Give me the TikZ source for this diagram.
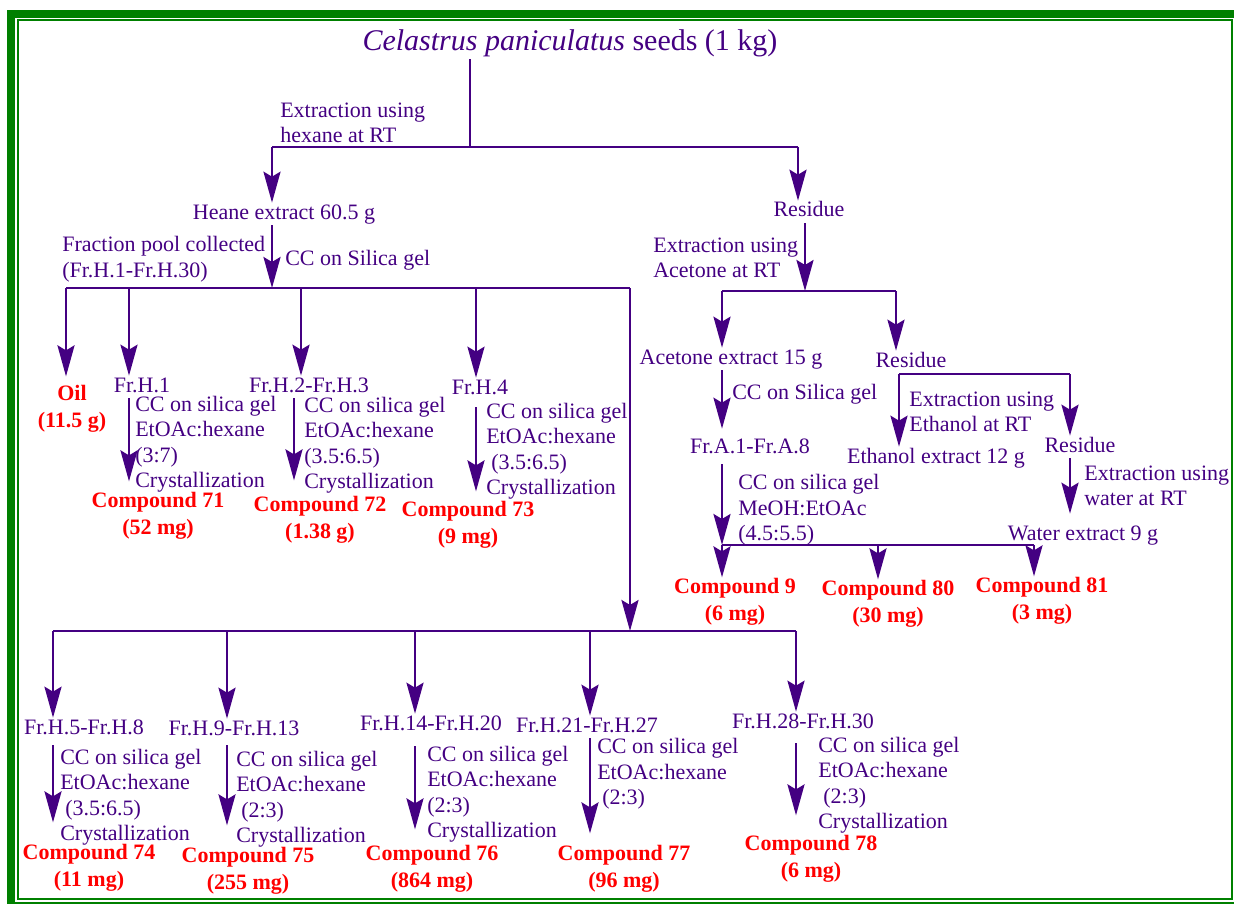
\documentclass[tikz,border=0pt]{standalone}
\usepackage{fontspec}
\setmainfont{Liberation Serif}
\usetikzlibrary{arrows.meta,positioning}
\definecolor{ink}{RGB}{68,0,130}
\definecolor{cpd}{RGB}{255,0,0}
\definecolor{frame}{RGB}{0,128,0}

\begin{document}
\begin{tikzpicture}[x=1pt, y=-1pt, color=ink, line width=2.6pt,
    >={Stealth[length=31pt,width=17pt,inset=5pt]},
    lbl/.style={inner sep=0pt, font=\fontsize{22}{25.5}\selectfont, text height=15pt, text depth=5pt},
    note/.style={inner sep=0pt, align=left, anchor=west, font=\fontsize{22}{25.5}\selectfont},
    cmp/.style={text=cpd, inner sep=0pt, align=center, font=\fontsize{22}{26.5}\selectfont\bfseries},
    ttl/.style={inner sep=0pt, font=\fontsize{30}{34}\selectfont, text height=21pt, text depth=7pt}]
    \useasboundingbox (0,0) rectangle (1234,904);

    % green frame
    \fill[frame] (7,10) rectangle (1234,18);
    \fill[frame] (7,10) rectangle (15,904);
    \draw[frame, line width=2pt] (18,20) rectangle (1232,899);
    \draw[frame, line width=1.5pt] (15,903) -- (1234,903);

    % seeds and first extraction
    \node[ttl] (seeds) at (570,44) {\textit{Celastrus paniculatus} seeds (1 kg)};
    \coordinate (top) at (470,147);
    \coordinate (hx) at (272,147);
    \coordinate (rx) at (798,147);
    \node[note] (exhex) at (279,123) {Extraction using\\hexane at RT};
    \node[lbl] (hex) at (284,214) {Heane extract 60.5 g};
    \node[lbl] (res1) at (809,212) {Residue};
    \draw (seeds.south -| top) -- (top);
    \draw (hx) -- (rx);
    \draw[->] (hx) -- (hex.north -| hx);
    \draw[->] (rx) -- (res1.north -| rx);

    % hexane extract on silica
    \coordinate (hj) at (272,288);
    \node[note] (cc1) at (284,260) {CC on Silica gel};
    \node[note] (pool) at (61,259) {Fraction pool collected\\(Fr.H.1-Fr.H.30)};
    \draw[->] (hex.south -| hj) -- (hj);
    \coordinate (oilx) at (66,288);
    \coordinate (h1) at (129,288);
    \coordinate (h2) at (301,288);
    \coordinate (h2in) at (294,288);
    \coordinate (h4) at (476,288);
    \coordinate (longx) at (630,288);
    \draw (oilx) -- (longx);

    \node[cmp] (oil) at (72,409) {Oil\\(11.5 g)};
    \draw[->, shorten >=8pt] (oilx) -- (oilx |- oil.north);

    \node[lbl] (fh1) at (142,387) {Fr.H.1};
    \node[note] (st1) at (134,444) {CC on silica gel\\EtOAc:hexane\\(3:7)\\Crystallization};
    \node[cmp] (c71) at (158,516) {Compound 71\\(52 mg)};
    \draw[->] (h1) -- (h1 |- fh1.north);
    \draw[->, shorten >=10pt] (h1 |- fh1.south) -- (h1 |- c71.north);

    \node[lbl] (fh2) at (309,387) {Fr.H.2-Fr.H.3};
    \node[note] (st2) at (303,445) {CC on silica gel\\EtOAc:hexane\\(3.5:6.5)\\Crystallization};
    \node[cmp] (c72) at (320,520) {Compound 72\\(1.38 g)};
    \draw[->] (h2) -- (h2 |- fh2.north);
    \draw[->, shorten >=15pt] (h2in |- fh2.south) -- (h2in |- c72.north);

    \node[lbl] (fh4) at (480,389) {Fr.H.4};
    \node[note] (st3) at (485,451) {CC on silica gel\\EtOAc:hexane\\\hspace{5pt}(3.5:6.5)\\Crystallization};
    \node[cmp] (c73) at (468,525) {Compound 73\\(9 mg)};
    \draw[->] (h4) -- (h4 |- fh4.north);
    \draw[->, shorten <=7pt, shorten >=9pt] (h4 |- fh4.south) -- (h4 |- c73.north);

    % residue: acetone
    \coordinate (aj) at (805,291);
    \coordinate (ax) at (722,291);
    \coordinate (rx2) at (896,291);
    \node[note] (exace) at (652,258) {Extraction using\\Acetone at RT};
    \draw[->] (res1.south -| aj) -- (aj);
    \draw (ax) -- (rx2);
    \node[lbl] (ace) at (731,359) {Acetone extract 15 g};
    \node[lbl] (res2) at (911,362) {Residue};
    \draw[->] (ax) -- (ace.north -| ax);
    \draw[->] (rx2) -- (res2.north -| rx2);

    \node[note] (cc2) at (731,394) {CC on Silica gel};
    \node[lbl] (fra) at (750,448) {Fr.A.1-Fr.A.8};
    \draw[->, shorten >=8pt] (ace.south -| ax) -- (fra.north -| ax);

    \coordinate (cj) at (722,545);
    \coordinate (c80x) at (878,545);
    \coordinate (c81x) at (1034,545);
    \node[note] (st4) at (737,510) {CC on silica gel\\MeOH:EtOAc\\(4.5:5.5)};
    \draw[->, shorten <=5pt] (fra.south -| cj) -- (cj);
    \draw (cj) -- (c81x);
    \node[cmp] (c9) at (735,602) {Compound 9\\(6 mg)};
    \node[cmp] (c80) at (888,604) {Compound 80\\(30 mg)};
    \node[cmp] (c81) at (1042,601) {Compound 81\\(3 mg)};
    \draw[->] (cj) -- (c9.north -| cj);
    \draw[->] (c80x) -- (c80.north -| c80x);
    \draw[->] (c81x) -- (c81.north -| c81x);

    % residue: ethanol, then water
    \coordinate (ex) at (899,374);
    \coordinate (wx) at (1070,374);
    \draw (ex) -- (wx);
    \node[note] (exeth) at (908,412) {Extraction using\\Ethanol at RT};
    \node[lbl] (eth) at (936,458) {Ethanol extract 12 g};
    \node[lbl] (res3) at (1080,447) {Residue};
    \draw[->] (ex) -- (eth.north -| ex);
    \draw[->] (wx) -- (res3.north -| wx);
    \node[note] (exwat) at (1083,486) {Extraction using\\water at RT};
    \node[lbl] (wat) at (1083,535) {Water extract 9 g};
    \draw[->, shorten >=10pt] (res3.south -| wx) -- (wat.north -| wx);

    % pooled fractions Fr.H.5 - Fr.H.30
    \coordinate (bot) at (630,631);
    \coordinate (b1) at (53,631);
    \coordinate (b2) at (227,631);
    \coordinate (b3) at (415,631);
    \coordinate (b4) at (590,631);
    \coordinate (b5) at (796,631);
    \draw[->] (longx) -- (bot);
    \draw (b1) -- (b5);

    \node[lbl] (f5) at (84,729) {Fr.H.5-Fr.H.8};
    \node[note] (st5) at (59,797) {CC on silica gel\\EtOAc:hexane\\\hspace{5pt}(3.5:6.5)\\Crystallization};
    \node[cmp] (c74) at (89,868) {Compound 74\\(11 mg)};
    \draw[->] (b1) -- (b1 |- f5.north);
    \draw[->, shorten <=5pt, shorten >=21pt] (b1 |- f5.south) -- (b1 |- c74.north);

    \node[lbl] (f9) at (234,730) {Fr.H.9-Fr.H.13};
    \node[note] (st6) at (235,799) {CC on silica gel\\EtOAc:hexane\\\hspace{5pt}(2:3)\\Crystallization};
    \node[cmp] (c75) at (248,871) {Compound 75\\(255 mg)};
    \draw[->] (b2) -- (b2 |- f9.north);
    \draw[->, shorten <=4pt, shorten >=21pt] (b2 |- f9.south) -- (b2 |- c75.north);

    \node[lbl] (f14) at (431,725) {Fr.H.14-Fr.H.20};
    \node[note] (st7) at (426,794) {CC on silica gel\\EtOAc:hexane\\(2:3)\\Crystallization};
    \node[cmp] (c76) at (432,869) {Compound 76\\(864 mg)};
    \draw[->] (b3) -- (b3 |- f14.north);
    \draw[->, shorten <=10pt, shorten >=15pt] (b3 |- f14.south) -- (b3 |- c76.north);

    \node[lbl] (f21) at (587,727) {Fr.H.21-Fr.H.27};
    \node[note] (st8) at (596,774) {CC on silica gel\\EtOAc:hexane\\\hspace{5pt}(2:3)};
    \node[cmp] (c77) at (624,869) {Compound 77\\(96 mg)};
    \draw[->] (b4) -- (b4 |- f21.north);
    \draw[->, shorten >=11pt] (b4 |- f21.south) -- (b4 |- c77.north);

    \node[lbl] (f28) at (803,723) {Fr.H.28-Fr.H.30};
    \node[note] (st9) at (817,785) {CC on silica gel\\EtOAc:hexane\\\hspace{5pt}(2:3)\\Crystallization};
    \node[cmp] (c78) at (811,859) {Compound 78\\(6 mg)};
    \draw[->] (b5) -- (b5 |- f28.north);
    \draw[->, shorten <=9pt, shorten >=19pt] (b5 |- f28.south) -- (b5 |- c78.north);
\end{tikzpicture}
\end{document}
